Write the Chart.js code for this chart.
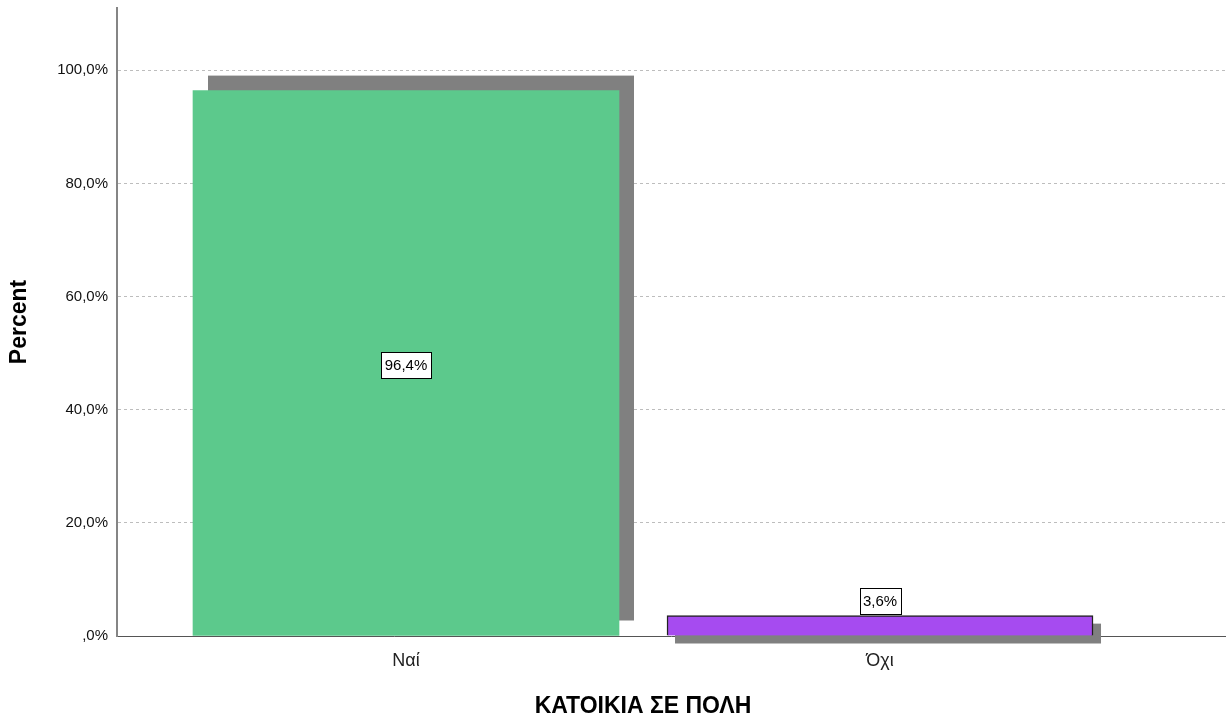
<!DOCTYPE html>
<html>
<head>
<meta charset="utf-8">
<script src="https://cdn.jsdelivr.net/npm/chart.js@4"></script>
<style>
  html, body { margin: 0; padding: 0; background: #fff; }
  #wrap { width: 1232px; height: 722px; }
</style>
</head>
<body>
<div id="wrap"><canvas id="chart"></canvas></div>
<script>
// ΚΑΤΟΙΚΙΑ ΣΕ ΠΟΛΗ - ποσοστά
const categories = ['Ναί', 'Όχι'];
const percents = [96.4, 3.6];
const barColors = ['#5cc98c', '#a64bf0'];
const borderColors = ['#5cc98c', '#222222'];
const yTicks = [0, 20, 40, 60, 80, 100];
const xTitle = 'ΚΑΤΟΙΚΙΑ ΣΕ ΠΟΛΗ';

const FONT = "'Liberation Sans', Arial, sans-serif";
const NARROW = "'Liberation Sans Narrow', 'Liberation Sans', Arial, sans-serif";

function pct(v) {
  return v.toFixed(1).replace('.', ',').replace(/^0,/, ',') + '%';
}

// σκιά πίσω από κάθε μπάρα (μετατόπιση ανά μπάρα)
const shadowOffsets = [[15, -15], [8, 8]];
const barShadow = {
  id: 'barShadow',
  beforeDatasetsDraw(chart) {
    const ctx = chart.ctx;
    const meta = chart.getDatasetMeta(0);
    ctx.save();
    ctx.fillStyle = '#808080';
    meta.data.forEach((bar, i) => {
      const [dx, dy] = shadowOffsets[i];
      const w = bar.width;
      const top = Math.min(bar.y, bar.base);
      const h = Math.abs(bar.base - bar.y);
      ctx.fillRect(bar.x - w / 2 + dx, top + dy, w, h);
    });
    ctx.restore();
  }
};

// ετικέτες τιμών σε πλαίσιο + τίτλος άξονα x κεντραρισμένος στις μπάρες
const valueBoxes = {
  id: 'valueBoxes',
  afterDatasetsDraw(chart) {
    const ctx = chart.ctx;
    const meta = chart.getDatasetMeta(0);
    ctx.save();
    ctx.font = '15px ' + FONT;
    ctx.textAlign = 'center';
    ctx.textBaseline = 'middle';
    meta.data.forEach((bar, i) => {
      const text = pct(percents[i]);
      const tw = ctx.measureText(text).width;
      const bw = Math.round(tw + 7), bh = 26;
      const h = Math.abs(bar.base - bar.y);
      let cy;
      if (h > 40) cy = (bar.y + bar.base) / 2 + 2;
      else cy = bar.y - bh / 2 - 2;
      const x0 = Math.round(bar.x - bw / 2) + 0.5;
      const y0 = Math.round(cy - bh / 2) + 0.5;
      ctx.fillStyle = '#fff';
      ctx.fillRect(x0, y0, bw, bh);
      ctx.strokeStyle = '#000';
      ctx.lineWidth = 1;
      ctx.strokeRect(x0, y0, bw, bh);
      ctx.fillStyle = '#000';
      ctx.fillText(text, bar.x, cy + 1);
    });

    const first = meta.data[0], last = meta.data[meta.data.length - 1];
    const cx = ((first.x - first.width / 2) + (last.x + last.width / 2)) / 2;
    ctx.font = 'bold 23px ' + FONT;
    ctx.fillText(xTitle, cx, 707);
    ctx.restore();
  }
};

new Chart(document.getElementById('chart'), {
  type: 'bar',
  data: {
    datasets: [{
      data: percents.map((v, i) => ({ x: i, y: v })),
      backgroundColor: barColors,
      borderColor: borderColors,
      borderWidth: [0, 1.5],
      barThickness: 426
    }]
  },
  options: {
    responsive: true,
    maintainAspectRatio: false,
    animation: false,
    layout: { padding: { top: 8, right: 7, left: 0, bottom: 0 } },
    plugins: {
      legend: { display: false },
      tooltip: { enabled: false }
    },
    scales: {
      x: {
        type: 'linear',
        offset: false,
        min: -0.6097,
        max: 1.7278,
        afterBuildTicks(scale) {
          scale.ticks = categories.map((c, i) => ({ value: i }));
        },
        afterFit(scale) {
          scale.height = 86;
          scale.paddingLeft = 0;
          scale.paddingRight = 0;
        },
        ticks: {
          callback: (v) => categories[v],
          color: '#222',
          font: { family: NARROW, size: 18 },
          padding: 14,
          maxRotation: 0,
          autoSkip: false
        },
        grid: { display: false, drawTicks: false },
        border: { display: true, color: '#555', width: 1 }
      },
      y: {
        min: 0,
        max: 111,
        afterBuildTicks(scale) {
          scale.ticks = yTicks.map(v => ({ value: v }));
        },
        afterFit(scale) {
          scale.width = 117;
          scale.paddingTop = 0;
          scale.paddingBottom = 0;
        },
        ticks: {
          callback: (v) => pct(v),
          color: '#111',
          font: { family: FONT, size: 15 },
          padding: 9
        },
        grid: {
          drawTicks: false,
          color: (c) => c.tick && c.tick.value === 0 ? 'rgba(0,0,0,0)' : '#bdbdbd',
          lineWidth: 1
        },
        border: { display: true, color: '#858585', width: 2, dash: [3, 3] },
        title: {
          display: true,
          text: 'Percent',
          color: '#000',
          font: { family: FONT, size: 23, weight: 'bold' },
          padding: { top: 6, bottom: 2 }
        }
      }
    }
  },
  plugins: [barShadow, valueBoxes]
});
</script>
</body>
</html>
